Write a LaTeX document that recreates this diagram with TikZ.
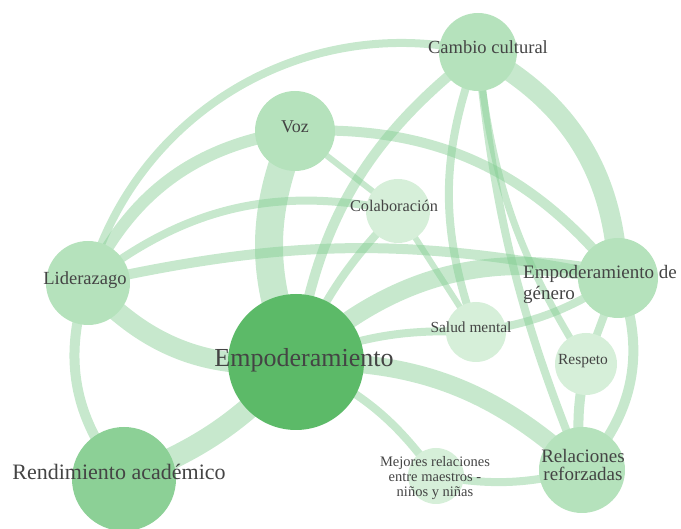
\documentclass[tikz,border=0pt]{standalone}
\usepackage{fontspec}
\setmainfont{Liberation Serif}
\usetikzlibrary{backgrounds}
\definecolor{hubgreen}{RGB}{92,186,104}
\definecolor{midgreen}{RGB}{140,208,150}
\definecolor{softgreen}{RGB}{181,226,188}
\definecolor{palegreen}{RGB}{214,239,217}
\definecolor{linkgreen}{RGB}{130,205,145}
\definecolor{labelgray}{RGB}{68,68,68}
\tikzset{%
  topic/.style={circle, inner sep=0pt, fill=#1},
  link/.style={draw=linkgreen, draw opacity=0.45, line width=#1},
  tag/.style={text=labelgray, inner sep=0pt, align=center}
}

\begin{document}
\begin{tikzpicture}[x=1pt,y=1pt]
\useasboundingbox (0,0) rectangle (681,-529);
\node[topic=hubgreen, minimum size=136pt] (emp) at (296,-362) {};
\node[topic=softgreen, minimum size=84pt] (lid) at (88,-283) {};
\node[topic=softgreen, minimum size=80pt] (voz) at (295,-131) {};
\node[topic=softgreen, minimum size=78pt] (cam) at (478,-52) {};
\node[topic=palegreen, minimum size=64pt] (col) at (398,-211) {};
\node[topic=softgreen, minimum size=80pt] (gen) at (618,-278) {};
\node[topic=palegreen, minimum size=60pt] (sal) at (476,-332) {};
\node[topic=palegreen, minimum size=62pt] (res) at (586,-364) {};
\node[topic=softgreen, minimum size=86pt] (rel) at (582,-470) {};
\node[topic=palegreen, minimum size=56pt] (mej) at (436,-476) {};
\node[topic=midgreen, minimum size=104pt] (ren) at (124,-479) {};

\begin{scope}[on background layer]
\draw[link=8pt] (lid.center) to[bend left=44] (cam.center);
\draw[link=12pt] (lid.center) to[bend left=28] (voz.center);
\draw[link=8pt] (lid.center) to[bend left=25] (col.center);
\draw[link=10pt] (lid.center) to[bend left=12] (gen.center);
\draw[link=20pt] (lid.center) to[bend right=27] (emp.center);
\draw[link=10pt] (lid.center) to[bend right=30] (ren.center);
\draw[link=28pt] (emp.center) to[bend left=23] (voz.center);
\draw[link=22pt] (emp.center) to[bend left=13] (ren.center);
\draw[link=10pt] (emp.center) to[bend left=22] (cam.center);
\draw[link=8pt] (emp.center) to[bend left=10] (col.center);
\draw[link=18pt] (emp.center) to[bend left=28] (gen.center);
\draw[link=8pt] (emp.center) to[bend left=12] (sal.center);
\draw[link=18pt] (emp.center) to[bend left=22] (rel.center);
\draw[link=8pt] (emp.center) to[bend left=15] (mej.center);
\draw[link=6pt] (voz.center) -- (col.center);
\draw[link=10pt] (voz.center) to[bend left=27] (gen.center);
\draw[link=6pt] (col.center) -- (sal.center);
\draw[link=20pt] (cam.center) to[bend left=30] (gen.center);
\draw[link=8pt] (cam.center) to[bend right=20] (sal.center);
\draw[link=8pt] (cam.center) to[bend right=8] (rel.center);
\draw[link=7pt] (cam.center) to[bend right=13] (res.center);
\draw[link=8pt] (gen.center) to[bend left=12] (sal.center);
\draw[link=8pt] (gen.center) -- (res.center);
\draw[link=10pt] (gen.center) to[bend left=33] (rel.center);
\draw[link=10pt] (res.center) to[bend right=10] (rel.center);
\draw[link=8pt] (mej.center) to[bend right=12] (rel.center);
\end{scope}

\node[tag, anchor=base, font=\fontsize{26}{28}\selectfont] (emp-lbl) at (304,-367) {Empoderamiento};
\node[tag, anchor=base, font=\fontsize{18.5}{20}\selectfont] (lid-lbl) at (85,-285) {Liderazago};
\node[tag, anchor=base, font=\fontsize{18}{20}\selectfont] (voz-lbl) at (295,-133) {Voz};
\node[tag, anchor=base, font=\fontsize{18.5}{20}\selectfont] (cam-lbl) at (488,-54) {Cambio cultural};
\node[tag, anchor=base, font=\fontsize{16.3}{18}\selectfont] (col-lbl) at (394,-212) {Colaboración};
\node[tag, anchor=west, align=left, font=\fontsize{19}{21}\selectfont] (gen-lbl) at (523,-284) {Empoderamiento de\\género};
\node[tag, anchor=base, font=\fontsize{15.4}{17}\selectfont] (sal-lbl) at (471,-333) {Salud mental};
\node[tag, anchor=base, font=\fontsize{15.5}{17}\selectfont] (res-lbl) at (583,-365) {Respeto};
\node[tag, font=\fontsize{19}{18}\selectfont] (rel-lbl) at (583,-465) {Relaciones\\reforzadas};
\node[tag, font=\fontsize{14.5}{15}\selectfont] (mej-lbl) at (435,-478) {Mejores relaciones\\entre maestros -\\niños y niñas};
\node[tag, anchor=base, font=\fontsize{22}{24}\selectfont] (ren-lbl) at (119,-480) {Rendimiento académico};
\end{tikzpicture}
\end{document}
